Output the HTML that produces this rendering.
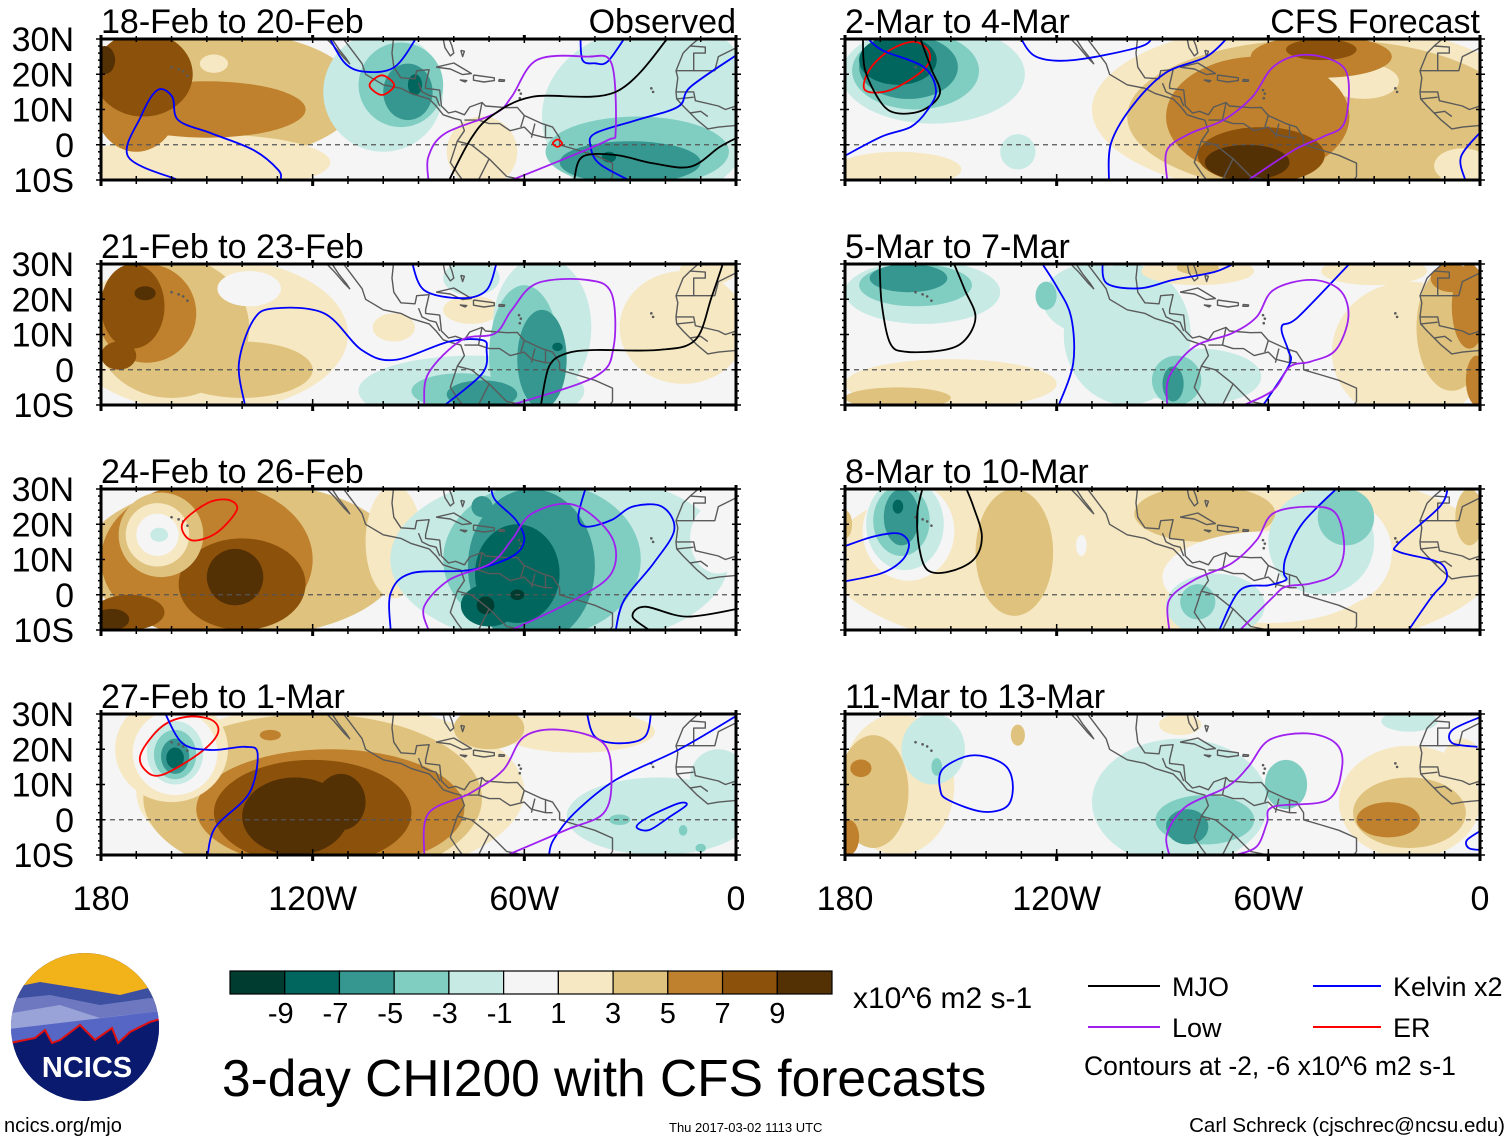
<!DOCTYPE html>
<html><head><meta charset="utf-8"><title>3-day CHI200 with CFS forecasts</title>
<style>
html,body{margin:0;padding:0;background:#fff;}
svg{display:block;font-family:"Liberation Sans",Arial,sans-serif;}
</style></head>
<body>
<svg id="chart" width="1510" height="1142" viewBox="0 0 1510 1142" xmlns="http://www.w3.org/2000/svg">
<rect x="0" y="0" width="1510" height="1142" fill="#fff"/>
<g id="panels"></g>

<g id="colorbar"></g>
<text x="853" y="1008" font-size="30">x10^6 m2 s-1</text>
<text x="222" y="1096" font-size="51.5">3-day CHI200 with CFS forecasts</text>

<g>
  <g><line x1="1088" y1="986" x2="1160" y2="986" stroke="#000" stroke-width="2"/><text x="1172" y="996" font-size="27">MJO</text></g>
  <g><line x1="1313" y1="986" x2="1381" y2="986" stroke="#0000ff" stroke-width="2"/><text x="1393" y="996" font-size="27">Kelvin x2</text></g>
  <g><line x1="1088" y1="1027" x2="1160" y2="1027" stroke="#a020f0" stroke-width="2"/><text x="1172" y="1037" font-size="27">Low</text></g>
  <g><line x1="1313" y1="1027" x2="1381" y2="1027" stroke="#ff0000" stroke-width="2"/><text x="1393" y="1037" font-size="27">ER</text></g>
  <text x="1084" y="1075" font-size="26.5">Contours at -2, -6 x10^6 m2 s-1</text>
</g>

<g>
  <defs><clipPath id="logoclip"><circle cx="85" cy="1027" r="74"/></clipPath></defs>
  <g clip-path="url(#logoclip)">
    <rect x="0" y="950" width="170" height="160" fill="#0a1a6e"/>
    <rect x="0" y="950" width="170" height="50" fill="#f2b21a"/>
    <path d="M0,990 L40,982 L90,990 L120,995 L160,985 L170,990 L170,1010 L0,1010Z" fill="#3d4fa0"/>
    <path d="M0,1000 L50,995 L100,1005 L150,998 L170,1000 L170,1030 L0,1030Z" fill="#6e78c0"/>
    <path d="M0,1015 L60,1005 L100,1018 L170,1010 L170,1035 L0,1040Z" fill="#9aa3d8"/>
    <path d="M0,1030 L170,1010 L170,1040 L0,1045Z" fill="#5566c4"/>
    <path d="M0,1045 L35,1038 L45,1030 L52,1043 L60,1040 L80,1025 L95,1040 L112,1028 L118,1043 L130,1032 L150,1022 L170,1016 L170,1110 L0,1110Z" fill="#0a1a6e"/>
    <path d="M0,1045 L35,1038 L45,1030 L52,1043 L60,1040 L80,1025 L95,1040 L112,1028 L118,1043 L130,1032 L150,1022 L170,1016" fill="none" stroke="#e01010" stroke-width="2"/>
  </g>
  <text x="87" y="1077" font-size="29" font-weight="bold" fill="#fff" text-anchor="middle">NCICS</text>
</g>
<text x="4" y="1132" font-size="20">ncics.org/mjo</text>
<text x="669" y="1132" font-size="13">Thu 2017-03-02 1113 UTC</text>
<text x="1505" y="1132" font-size="20.5" text-anchor="end">Carl Schreck (cjschrec@ncsu.edu)</text>
</svg>

<script>
const levelColors = ["#003c30","#01665e","#35978f","#80cdc1","#c7eae5","#f5f5f5","#f6e8c3","#dfc27d","#bf812d","#8c510a","#543005"];
const colorbarLabels = ["-9","-7","-5","-3","-1","1","3","5","7","9"];
const panelTitles = ["18-Feb to 20-Feb","21-Feb to 23-Feb","24-Feb to 26-Feb","27-Feb to 1-Mar","2-Mar to 4-Mar","5-Mar to 7-Mar","8-Mar to 10-Mar","11-Mar to 13-Mar"];
const lonTicks = [-180,-120,-60,0];
const lonTickLabels = ["180","120W","60W","0"];
const latTicks = [30,20,10,0,-10];
const latTickLabels = ["30N","20N","10N","0","10S"];

const fieldA = [
 [-145,14,38,18,4],[-150,-5,35,8,2],[-170,12,12,14,6],[-150,10,28,8,6],[-168,20,14,12,8],[-179,24,3,4,10],[-148,23,4,2.6,2],
 [-100,15,17,17,-2],[-95,17,12,12,-4],[-93,15,7,8,-6],[-91,17,2,3,-8],[-72,-2,10,10,2],
 [-25,8,30,25,-2],[-15,25,15,8,-2],[-28,-2,26,10,-4],[-30,-5,20,6,-6],[-36,-3.5,2,1.5,-8]];
const fieldB = [
 [-150,10,40,22,2],[-160,12,22,20,4],[-140,0,20,8,4],[-138,23,9,5,0],[-167,16,14,14,6],[-171,18,9,12,8],[-175,4,5,4,8],[-167.5,21.7,3,2,10],
 [-97,12,6,4,2],[-75,17,8,4,2],[-15,12,18,16,2],[-8,28,8,4,2],
 [-75,-6,32,10,-2],[-55,12,14,20,-2],[-75,26,8,5,-2],[-60,4,10,20,-4],[-78,-6,14,5,-4],[-55,3,7,14,-6],[-72,-7,10,4,-6],[-50.6,6.5,1.5,1.2,-8]];
const fieldC = [
 [-140,10,45,22,4],[-97,15,8,16,2],[-150,10,30,22,6],[-140,3,18,13,8],[-172,-5,10,5,8],[-142,5,8,8,10],[-177,-7,5,3,10],
 [-163,17,12,12,4],[-164,17,9,9,2],[-164,17,6,6,0],[-163.5,17,2.5,2,-2],
 [-50,10,48,25,-2],[-5,16,8,10,0],[-55,10,28,22,-4],[-58,8,18,22,-6],[-72,25,3,3,-6],[-62,6,12,14,-8],[-70,-3,8,6,-8],[-71,-3,2.5,2.5,-10],[-62,0,2,1.5,-10]];
const fieldD = [
 [-115,8,55,25,2],[-120,6,48,24,4],[-115,3,38,17,6],[-120,2,28,15,8],[-125,1,15,11,10],[-112,5,7,8,10],[-132,24,3,1.5,6],
 [-160,20,16,15,2],[-159,19,12,12,0],[-159,19,8,9,-2],[-159,18.5,6,7,-4],[-159,18,4,5,-6],[-159,17.5,2.5,3,-8],
 [-45,25,22,6,2],[-70,26,10,6,4],[-22,1,26,11,-2],[-5,12,8,8,-2],[-33,0,3,1.5,-4],[-15,-3,1.2,1.5,-4],[-10,-8,1.5,1.2,-4]];
const fieldE = [
 [-155,20,26,14,-2],[-131,-2,5,5,-2],[-160,21,18,11,-4],[-162,22,14,9,-6],[-165,24,11,7,-8],
 [-48,10,62,25,2],[-165,-7,18,5,2],[-45,8,55,22,4],[-33,18,10,5,2],[-5,-6,8,5,2],
 [-63,8,26,17,6],[-45,25,20,6,6],[-62,-3,18,8,8],[-45,27,10,3,8],[-66,-5,12,5,10]];
const fieldF = [
 [-158,22,22,9,-2],[-100,10,18,20,-2],[-80,-2,18,8,-2],[-110,20,14,10,-2],
 [-160,24,16,6,-4],[-123,21,3,4,-4],[-86,-3,7,7,-4],[-162,26,11,4,-6],[-87,-4,3,5,-6],
 [-150,-4,30,7,2],[-80,28,16,4,2],[-20,5,22,20,2],[-30,28,15,4,2],
 [-165,-8,15,3,4],[-8,12,10,18,4],[-80,29,6,2,4],[-3,18,5,12,6],[-1,-3,3,7,6],[-8,26,6,4,6]];
const fieldG = [
 [-90,10,95,30,2],[-132,12,11,18,4],[-78,23,20,8,4],[-180,20,2,4,4],[-3,22,4,8,4],
 [-162,18,13,14,0],[-60,5,30,13,0],[-40,12,15,15,0],[-113,14,1.5,3,0],
 [-163,20,11,13,-2],[-164,21,8,10,-4],[-164,22,5,8,-6],[-165,25,1.5,2,-8],
 [-45,15,15,15,-2],[-75,-3,14,9,-2],[-38,22,8,8,-4],[-80,-2,5,5,-4]];
const fieldH = [
 [-165,10,16,20,2],[-85,27,6,3,2],[-20,5,20,16,2],[-5,15,6,8,2],[-172,8,10,16,4],[-20,2,16,10,4],[-131,24,2,3,4],
 [-175.5,14.6,3,2.5,6],[-179,-5,3,5,6],[-26,0,9,5,6],
 [-85,5,25,18,-2],[-155,20,9,10,-2],[-20,28,8,3,-2],[-78,0,14,7,-4],[-55,10,6,7,-4],[-154,15,1.5,2.5,-4],[-83,-2,6,5,-6]];
const fields = [fieldA,fieldB,fieldC,fieldD,fieldE,fieldF,fieldG,fieldH];

const contoursA = [
 ["kelvin",0,[[-158.1,-10],[-172.3,-3.4],[-168.7,8],[-164,15.5],[-159.8,13.6],[-158.1,7],[-148.6,3.2],[-136.8,-1.5],[-129.7,-7.2],[-129.1,-10]]],
 ["kelvin",0,[[-115.6,31],[-110.8,23.1],[-104.9,20.7],[-96.7,22.1],[-90.2,31]]],
 ["kelvin",0,[[-44.1,31],[-43.5,24],[-40,23.1],[-36.4,23.6],[-31.1,31]]],
 ["kelvin",0,[[1,26],[-12.8,16.5],[-16.4,10.8],[-28.2,7],[-40,3.2],[-41.2,-0.6],[-38.8,-5.3],[-30.5,-10]]],
 ["er",1,[[-100.4,19.7],[-96.9,16.9],[-100.4,14.1],[-103.9,16.9]]],
 ["er",1,[[-50.6,1.5],[-49.3,0.4],[-50.6,-0.6],[-51.9,0.4]]],
 ["low",0,[[-87.2,-10],[-87.2,-3.4],[-82.5,3.2],[-68.3,8.9],[-63.6,13.6],[-56.5,24],[-42.4,25],[-35.3,23.1],[-34.1,4.2],[-36.4,1.3],[-49.4,-4.3],[-63.6,-10]]],
 ["mjo",0,[[-81.3,-10],[-75.4,1.3],[-69.5,8],[-57.7,13.6],[-34.1,15],[-18.7,31]]],
 ["mjo",0,[[-45.9,-10],[-43.5,-3.4],[-34.1,-2.9],[-23.4,-5.3],[-12.8,-6.2],[-4.6,-0.6],[1,2.3]]]];
const contoursB = [
 ["kelvin",0,[[-139.2,-10],[-140.9,1.8],[-136.8,14.1],[-130.9,17.4],[-116.7,16],[-106.1,5.6],[-96.7,2.8],[-81.3,8],[-71.9,8.4],[-70.7,5.6],[-71.9,-1],[-82.5,-10]]],
 ["kelvin",0,[[-92,31],[-88.4,22.6],[-77.8,20.3],[-70.7,22.6],[-67.7,31]]],
 ["low",0,[[-88.4,-10],[-87.2,-1],[-77.8,8.4],[-68.3,10.3],[-63.6,16.9],[-56.5,24.5],[-42.4,25.5],[-35.3,21.7],[-34.7,6.5],[-40,-2],[-63.6,-10]]],
 ["mjo",0,[[-55.3,-10],[-53,0.9],[-48.2,4.6],[-40,5.6],[-22.3,5.6],[-11.6,8.4],[-6.9,20.7],[-3.4,31]]]];
const contoursC = [
 ["er",1,[[-156.9,20.3],[-154.5,15.5],[-147.5,17.4],[-141.5,24],[-143.9,26.9],[-149.8,26]]],
 ["kelvin",0,[[-97.9,-10],[-97.9,0.4],[-92,6.1],[-75.4,7],[-63.6,10.8],[-60,15.5],[-62.4,21.2],[-68.3,26.9],[-69.5,31]]],
 ["kelvin",0,[[-42.4,31],[-44.7,22.1],[-42.4,19.3],[-35.3,21.2],[-29.3,25],[-21,25],[-17.5,18.4],[-23.4,8.9],[-31.7,-1.5],[-34.1,-10]]],
 ["low",0,[[-87.2,-10],[-88.4,-3.4],[-81.3,4.2],[-69.5,8.9],[-63.6,15.5],[-57.7,23.1],[-45.9,25.5],[-35.3,16.5],[-35.3,6.1],[-45.9,-1.5],[-63.6,-10]]],
 ["mjo",0,[[-24.6,-10],[-29.3,-6.2],[-25.8,-3.4],[-14,-6.2],[1,-3.9]]]];
const contoursD = [
 ["er",1,[[-167.5,14.1],[-168.7,18.8],[-162.8,26.4],[-155.7,29.2],[-148.6,28.3],[-146.9,24.5],[-152.2,18.8],[-162.8,12.7]]],
 ["kelvin",0,[[-162.2,31],[-156.9,21.7],[-148.6,19.8],[-139.2,20.7],[-135.6,18.8],[-138,7.5],[-147.5,-2],[-149.8,-10]]],
 ["kelvin",0,[[-42.4,31],[-40,23.6],[-32.9,21.7],[-25.8,23.6],[-24,31]]],
 ["kelvin",0,[[1,30],[-16.4,19.8],[-34.1,11.3],[-45.9,1.8],[-51.8,-5.8],[-53,-10]]],
 ["kelvin",1,[[-28.2,-2],[-24.6,0.9],[-16.4,4.6],[-14,4.2],[-18.7,0.9],[-24.6,-2.9]]],
 ["low",0,[[-88.4,-10],[-87.2,1.8],[-75.4,7.5],[-66,14.1],[-60,23.6],[-49.4,25.5],[-37.6,21.7],[-35.3,11.3],[-37.6,1.8],[-48.2,-2.9],[-64.8,-10]]]];
const contoursE = [
 ["er",1,[[-174.3,15.5],[-173.1,21.2],[-167.2,26.9],[-160.1,29.2],[-156,25.9],[-157.8,21.2],[-167.2,15.5]]],
 ["mjo",0,[[-174.9,31],[-174.3,21.2],[-169.6,11.7],[-164.9,8.9],[-157.8,9.9],[-153.1,14.6],[-155.4,21.2],[-157.8,27.8],[-159,31]]],
 ["kelvin",0,[[-180.5,-3.4],[-169.6,2.3],[-161.3,5.1],[-156.6,9.9],[-154.2,15.5],[-157.8,22.1],[-169.6,26.9],[-174.3,31]]],
 ["kelvin",0,[[-130.6,31],[-125.9,25],[-115.3,24],[-96.4,27.8],[-92.8,31]]],
 ["kelvin",0,[[-105.2,-10],[-104.6,0.4],[-98.7,10.8],[-89.3,20.3],[-77.5,25],[-71,31]]],
 ["kelvin",0,[[-4.2,-10],[-5.4,-3.4],[0.5,4]]],
 ["low",0,[[-88.7,-10],[-88.7,-1.5],[-82.2,3.2],[-72.7,7],[-64.5,13.6],[-58.6,22.1],[-50.3,25.5],[-40.9,23.6],[-37.3,18.4],[-38.5,6.1],[-44.4,2.3],[-52.7,-1.5],[-65.7,-10]]]];
const contoursF = [
 ["mjo",0,[[-170.2,31],[-169.6,18.8],[-167.2,7.5],[-162.5,5.1],[-151.9,5.6],[-146,8.4],[-143,15],[-146,22.6],[-149.5,31]]],
 ["kelvin",0,[[-124.7,31],[-120,23.6],[-115.9,15],[-115.3,1.8],[-119.4,-10]]],
 ["kelvin",0,[[-107,31],[-105.8,24.5],[-96.4,23.1],[-86.9,25.5],[-75.1,27.8],[-68.1,31]]],
 ["kelvin",0,[[-36.1,31],[-51.5,15],[-56.2,12.2],[-54.4,5.6],[-53.9,1.8],[-59.8,-7.6],[-61.5,-10]]],
 ["low",0,[[-88.7,-10],[-88.1,-2],[-81,6.5],[-70.4,10.3],[-63.3,15],[-58.6,22.6],[-48,25.5],[-39.7,22.6],[-37.3,15],[-40.9,5.6],[-48,2.3],[-53.9,0.9],[-58.6,-5.8],[-66.9,-10]]]];
const contoursG = [
 ["kelvin",0,[[-180.5,3.7],[-169.6,6.1],[-163.7,9.9],[-161.9,14.6],[-164.9,17.4],[-172,16.5],[-180.5,13.6]]],
 ["mjo",0,[[-157.8,31],[-159.5,23.1],[-159,13.6],[-156.6,7],[-150.7,6.5],[-143.6,9.9],[-141.2,16.5],[-143.6,25],[-146,31]]],
 ["kelvin",0,[[-39.7,31],[-50.3,20.3],[-55,10.8],[-55.6,6.1],[-55,4.2],[-59.8,2.7],[-68,1.3],[-73.9,-10]]],
 ["kelvin",0,[[-9,31],[-11.4,25],[-23.1,14.6],[-23.1,12.2],[-13.7,9.9],[-10.2,8],[-9.6,4.2],[-13.7,-0.6],[-20.2,-10]]],
 ["low",0,[[-88.1,-10],[-88.1,-1.5],[-81,4.2],[-70.4,8.9],[-63.3,15.5],[-58.6,23.1],[-48,25],[-40.9,23.1],[-38.5,13.6],[-40.9,6.1],[-48,3.2],[-55,2.3],[-58.6,-0.6],[-68,-10]]]];
const contoursH = [
 ["kelvin",1,[[-153,8.4],[-152.5,14.1],[-146,17.9],[-140.1,17.9],[-134.2,15],[-132.4,9.4],[-134.2,3.7],[-141.2,2.3],[-150.7,5.6]]],
 ["low",0,[[-88.1,-10],[-88.7,-3.9],[-83.4,3.7],[-71.6,9.4],[-65.7,15],[-59.8,22.6],[-49.1,24.5],[-40.9,21.7],[-39.1,15],[-43.2,5.6],[-58.6,3.7],[-60.4,-1],[-63.3,-7.6],[-69.2,-10]]],
 ["kelvin",0,[[1,29.5],[-7.8,25.5],[-7.8,21.7],[-0.7,20.7]]],
 ["kelvin",0,[[0.5,-2.9],[-3.7,-5.8],[-3.1,-8.1],[0.5,-8.6]]]];
const contours = [contoursA,contoursB,contoursC,contoursD,contoursE,contoursF,contoursG,contoursH];

const coastLines = [
 [[-117,31],[-114,28],[-111,24.5],[-109.5,23],[-110.5,24.5],[-112.5,27],[-114.5,30],[-115,31]],
 [[-112,31],[-109,27],[-106,23],[-105,20],[-100,17],[-95,16],[-92,14.5],[-87,13],[-85,11],[-83,8.5],[-80,7.5],[-78,7],[-77,4],[-79,1],[-80,-2],[-81,-5],[-79,-8],[-77.5,-10]],
 [[-97,31],[-97.5,26],[-97,22],[-95,19],[-91,18.7],[-90.5,21],[-87,21.3],[-88,17],[-88,16],[-84,15.5],[-83.5,11],[-81.5,9],[-79.5,9.5],[-77,8.5],[-75.5,10.7],[-72,12],[-71,11],[-65,10.5],[-62,10.6],[-60,8.3],[-55,6],[-52,5],[-50,2],[-50,0],[-45,-1.5],[-40,-3],[-35,-5.2],[-35,-9],[-35.8,-10]],
 [[-83,30],[-82.5,27.5],[-81,25.2],[-80,26],[-80.5,28],[-81.3,30],[-81.5,31]],
 [[-85,22],[-80,23.2],[-75,20.2],[-77.5,19.9],[-81,21.5],[-85,22]],
 [[-74.4,19.8],[-68.5,19],[-68.5,18.2],[-71.5,17.8],[-74.4,18.3],[-74.4,19.8]],
 [[-67.2,18.5],[-65.6,18.4],[-65.7,18],[-67.2,18],[-67.2,18.5]],
 [[-78.3,18.4],[-76.3,18.2],[-76.8,17.8],[-78.3,18.4]],
 [[-78,26.8],[-77,26.5],[-77.5,25],[-78,26.8]],
 [[-9.5,31],[-13,28],[-15,26],[-17,21],[-16.5,19],[-17,15],[-16.8,13],[-15,11],[-13,9],[-11,7],[-8,4.5],[-5,5],[0,5.5],[1,6]],
 [[-13,28],[-8.7,27.7],[-8.7,26],[-12,26],[-12,21],[-17,21]],
 [[-12,21],[-6,21],[-5,25],[-1,27],[1,28]],
 [[-17,15],[-12,15],[-11.5,12.5],[-5,11],[-3,10],[0,11]],
 [[-16.8,13],[-12,13.5]],[[-13,9],[-10,9.5],[-8,8]],
 [[-90,17.5],[-89,15],[-87,14],[-85,13.5],[-84,11]],
 [[-77,7],[-73,7],[-70,6],[-67,6],[-64,4],[-60,5],[-58,3],[-54,2],[-52,2]],
 [[-79,1],[-75,0],[-70,-4],[-73,-10]],
 [[-70,-4],[-65,-9],[-60,-10]],
 [[-73,7],[-72,12]],[[-60,8.3],[-61,5]],[[-57,6],[-58,2]],[[-54,5.5],[-54,2]]
];
const islandDots = [[-160,22],[-158,21.4],[-156.7,20.8],[-155.5,19.6],[-61,14.5],[-61.3,13.2],[-61.5,15.5],[-24,16],[-23.5,15]];

const NS="http://www.w3.org/2000/svg";
const PW=635, PH=141;
const colX=[101,845], rowY=[39,264,489,714];
function el(tag,attrs,parent){const e=document.createElementNS(NS,tag);for(const k in attrs)e.setAttribute(k,attrs[k]);if(parent)parent.appendChild(e);return e;}
function colorOf(v){let i=Math.round((v+10)/2);i=Math.max(0,Math.min(10,i));return levelColors[i];}
function smoothPath(pts,closed){
  const n=pts.length;let d="M"+pts[0][0].toFixed(1)+","+pts[0][1].toFixed(1);
  const get=i=>closed?pts[(i+n)%n]:pts[Math.max(0,Math.min(n-1,i))];
  const segs=closed?n:n-1;
  for(let i=0;i<segs;i++){
    const p0=get(i-1),p1=get(i),p2=get(i+1),p3=get(i+2);
    const c1=[p1[0]+(p2[0]-p0[0])/6,p1[1]+(p2[1]-p0[1])/6];
    const c2=[p2[0]-(p3[0]-p1[0])/6,p2[1]-(p3[1]-p1[1])/6];
    d+=" C"+c1[0].toFixed(1)+","+c1[1].toFixed(1)+" "+c2[0].toFixed(1)+","+c2[1].toFixed(1)+" "+p2[0].toFixed(1)+","+p2[1].toFixed(1);
  }
  if(closed)d+="Z";return d;
}
const kindColor={mjo:"#000000",kelvin:"#0000ff",low:"#a020f0",er:"#ff0000"};
const root=document.getElementById("panels");
const defs=el("defs",{},root);

for(let p=0;p<8;p++){
  const col=p<4?0:1,row=p%4;
  const x0=colX[col],y0=rowY[row];
  const xs=lon=>x0+(lon+180)*PW/180;
  const ys=lat=>y0+(30-lat)*PH/40;
  const g=el("g",{},root);
  
  
  const cp=el("clipPath",{id:"clip"+p},defs);
  el("rect",{x:x0,y:y0,width:PW,height:PH},cp);
  const mapG=el("g",{"clip-path":"url(#clip"+p+")"},g);
  el("rect",{x:x0,y:y0,width:PW,height:PH,fill:levelColors[5]},mapG);
  const fg=el("g",{},mapG);
  
  
  fields[p].forEach(b=>{
    const e=el("ellipse",{cx:xs(b[0]),cy:ys(b[1]),rx:b[2]*PW/180,ry:b[3]*PH/40,fill:colorOf(b[4])},fg);
    
    
  });
  const cg=el("g",{fill:"none",stroke:"#5a5a5a","stroke-width":1.4,"stroke-linejoin":"round"},mapG);
  
  
  coastLines.forEach(line=>{
    el("path",{d:"M"+line.map(q=>xs(q[0]).toFixed(1)+","+ys(q[1]).toFixed(1)).join(" L")},cg);
  });
  islandDots.forEach(q=>el("circle",{cx:xs(q[0]),cy:ys(q[1]),r:1.3,fill:"#5a5a5a",stroke:"none"},cg));
  const eq=el("line",{x1:x0,x2:x0+PW,y1:ys(0),y2:ys(0),stroke:"#555","stroke-width":1.3,"stroke-dasharray":"5,4"},mapG);
  
  
  contours[p].forEach(c=>{
    const pts=c[2].map(q=>[xs(q[0]),ys(q[1])]);
    const path=el("path",{d:smoothPath(pts,!!c[1]),fill:"none",stroke:kindColor[c[0]],"stroke-width":1.8},mapG);
    
    
  });
  el("rect",{x:x0,y:y0,width:PW,height:PH,fill:"none",stroke:"#000","stroke-width":3},g);
  const tg=el("g",{stroke:"#000","stroke-width":1.5},g);
  
  
  for(let lon=-180;lon<=0;lon+=10){
    const major=lonTicks.includes(lon);const L=major?6:4;const X=xs(lon);
    el("line",{x1:X,x2:X,y1:y0+PH,y2:y0+PH+L,"stroke-width":major?3:1.5},tg);
    el("line",{x1:X,x2:X,y1:y0+PH,y2:y0+PH-L},tg);
    el("line",{x1:X,x2:X,y1:y0,y2:y0+(major?4:3)},tg);
    el("line",{x1:X,x2:X,y1:y0,y2:y0-(major?4:3),"stroke-width":major?3:1.5},tg);
  }
  for(let lat=-10;lat<=30;lat+=2){
    const major=lat%10===0;const Y=ys(lat);const L=major?5:3;
    el("line",{x1:x0,x2:x0-L,y1:Y,y2:Y},tg);el("line",{x1:x0+PW,x2:x0+PW+L,y1:Y,y2:Y},tg);
    if(major){el("line",{x1:x0,x2:x0+4,y1:Y,y2:Y},tg);el("line",{x1:x0+PW,x2:x0+PW-4,y1:Y,y2:Y},tg);}
  }
  const t=el("text",{x:x0,y:y0-6,"font-size":34},g);
  t.textContent=panelTitles[p];
  
  
  if(row===0){
    const s=el("text",{x:x0+PW,y:y0-6,"font-size":34,"text-anchor":"end"},g);
    s.textContent=col===0?"Observed":"CFS Forecast";
    
    
  }
  if(col===0){
    latTicks.forEach((lat,i)=>{
      const lt=el("text",{x:74,y:ys(lat)+12,"font-size":34,"text-anchor":"end"},g);
      lt.textContent=latTickLabels[i];
      
      
    });
  }
  if(row===3){
    lonTicks.forEach((lon,i)=>{
      const lt=el("text",{x:xs(lon),y:y0+PH+55,"font-size":34,"text-anchor":"middle"},g);
      lt.textContent=lonTickLabels[i];
      
      
    });
  }
}

const cb=document.getElementById("colorbar");
const cbX=230,cbW=602,cbY=971,cbH=23,bw=cbW/levelColors.length;
levelColors.forEach((c,i)=>{
  const r=el("rect",{x:cbX+i*bw,y:cbY,width:bw,height:cbH,fill:c,stroke:"#000","stroke-width":1.2},cb);
  
  
});
colorbarLabels.forEach((s,i)=>{
  const t=el("text",{x:cbX+(i+1)*bw-(s.startsWith("-")?4:0),y:1023,"font-size":29,"text-anchor":"middle"},cb);
  t.textContent=s;
  
  
});
</script>
</body></html>
